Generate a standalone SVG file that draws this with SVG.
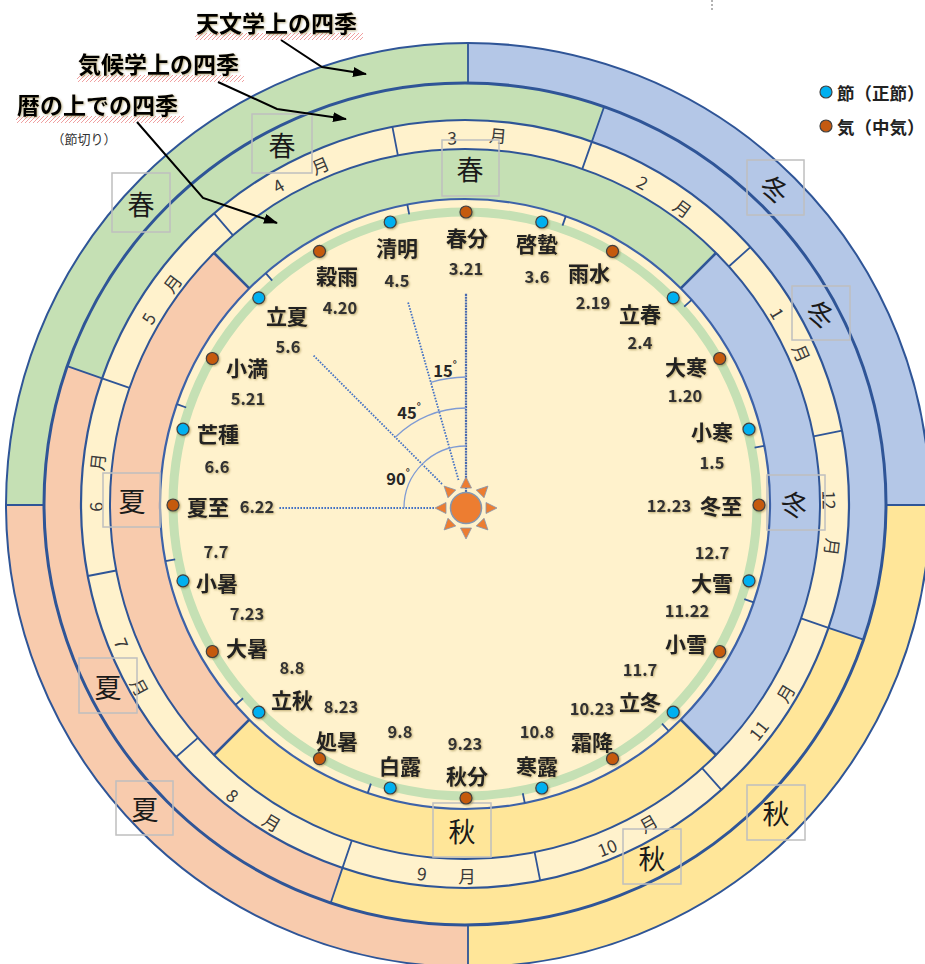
<svg xmlns="http://www.w3.org/2000/svg" width="925" height="964" viewBox="0 0 925 964">
<defs>
<style>
.ln{fill:none;stroke:#2F5597;stroke-width:2}
.tk{stroke:#2F5597;stroke-width:1.8;fill:none}
.bx{fill:none;stroke:#BFBFBF;stroke-width:1.5}
.sea{font-family:"Noto Sans CJK JP","Noto Sans",sans-serif;font-size:27px;fill:#1a1a1a;text-anchor:middle;dominant-baseline:central}
.mon{font-family:"Noto Sans CJK JP","Noto Sans",sans-serif;font-size:17.5px;fill:#3a3a3a;text-anchor:middle;dominant-baseline:central}
.nm{font-family:"Noto Sans CJK JP","Noto Sans",sans-serif;font-size:21px;font-weight:700;fill:#222;text-anchor:middle;dominant-baseline:central}
.dt{font-family:"Noto Sans CJK JP","Noto Sans",sans-serif;font-size:16.5px;font-weight:700;fill:#333;text-anchor:middle;dominant-baseline:central}
.cap{font-family:"Noto Sans CJK JP","Noto Sans",sans-serif;font-size:23px;font-weight:700;fill:#000;dominant-baseline:central}
.lg{font-family:"Noto Sans CJK JP","Noto Sans",sans-serif;font-size:17.5px;font-weight:700;fill:#222;dominant-baseline:central}
.deg{font-family:"Noto Sans CJK JP","Noto Sans",sans-serif;font-size:16.5px;font-weight:700;fill:#262626;text-anchor:middle;dominant-baseline:central}
.dotS{fill:#00B0F0;stroke:#404040;stroke-width:1.2}
.dotK{fill:#C55A11;stroke:#404040;stroke-width:1.2}
.dots{fill:none;stroke:#4472C4;stroke-width:1.8;stroke-dasharray:1.6 1.4}
.arc{fill:none;stroke:#7F9BD3;stroke-width:1.3}
.arw{fill:none;stroke:#000;stroke-width:2}
</style>
<pattern id="hatch" width="4" height="4" patternUnits="userSpaceOnUse">
<path d="M0,4 L4,0" stroke="#F0A0A0" stroke-width="1"/>
</pattern>
<filter id="sh" x="-20%" y="-20%" width="140%" height="140%">
<feDropShadow dx="1" dy="1" stdDeviation="0.8" flood-color="#6b5200" flood-opacity="0.45"/>
</filter>
<marker id="ah" viewBox="0 0 14 10" refX="13" refY="5" markerWidth="14" markerHeight="10" orient="auto" markerUnits="userSpaceOnUse">
<path d="M0,0 L14,5 L0,10 Z" fill="#000"/>
</marker>
<polygon id="ray" points="0,-31 5.5,-20 -5.5,-20" fill="#ED7D31" stroke="#8497B0" stroke-width="0.8"/>
</defs>

<rect width="925" height="964" fill="#fff"/>

<!-- Outer ring: astronomical seasons -->
<g id="ring-astronomical">
<path d="M468,505 L6,505 A462,462 0 0 1 468,43 Z" fill="#C5E0B4"/>
<path d="M468,505 L468,43 A462,462 0 0 1 930,505 Z" fill="#B4C7E7"/>
<path d="M468,505 L930,505 A462,462 0 0 1 468,967 Z" fill="#FFE699"/>
<path d="M468,505 L468,967 A462,462 0 0 1 6,505 Z" fill="#F8CBAD"/>
<circle cx="468" cy="505" r="462" class="ln"/>
</g>

<!-- Climatological ring -->
<g id="ring-climatological">
<path d="M465,504 L67.2,366.2 A421,421 0 0 1 604.1,106.7 Z" fill="#C5E0B4"/>
<path d="M465,504 L604.1,106.7 A421,421 0 0 1 863.5,639.7 Z" fill="#B4C7E7"/>
<path d="M465,504 L863.5,639.7 A421,421 0 0 1 330.7,903 Z" fill="#FFE699"/>
<path d="M465,504 L330.7,903 A421,421 0 0 1 67.2,366.2 Z" fill="#F8CBAD"/>
</g>

<!-- Month ring -->
<g id="ring-months">
<circle cx="465" cy="504" r="384" fill="#FFF2CC"/>
</g>

<!-- Calendar (sekki) ring -->
<g id="ring-calendar">
<path d="M465,504 L214,253 A355,355 0 0 1 716,253 Z" fill="#C5E0B4"/>
<path d="M465,504 L716,253 A355,355 0 0 1 716,755 Z" fill="#B4C7E7"/>
<path d="M465,504 L716,755 A355,355 0 0 1 214,755 Z" fill="#FFE699"/>
<path d="M465,504 L214,755 A355,355 0 0 1 214,253 Z" fill="#F8CBAD"/>
</g>

<!-- Inner disc -->
<g id="inner-disc">
<circle cx="465" cy="504" r="305" fill="#FFF2CC"/>
<circle cx="465" cy="504" r="292" fill="none" stroke="#C5E0B4" stroke-width="9"/>
</g>

<!-- Ring outlines and division lines -->
<g id="ring-lines">
<circle cx="465" cy="504" r="421" fill="none" stroke="#2F5597" stroke-width="3"/>
<circle cx="465" cy="504" r="384" fill="none" stroke="#2F5597" stroke-width="2.2"/>
<circle cx="465" cy="504" r="355" class="ln"/>
<circle cx="465" cy="504" r="305" fill="none" stroke="#3D62A8" stroke-width="2.2"/>
<path class="tk" d="M468,43 L468,83 M886,505 L925,505 M468,925 L468,964 M6,505 L44,505"/>
<path class="tk" d="M591.9,141.6 L604.1,106.7 M828.5,627.8 L863.5,639.7 M342.5,867.9 L330.7,903 M102.1,378.3 L67.2,366.2"/>
<path class="tk" d="M582.3,168.9 L591.9,141.6 M728.8,266.5 L750.4,247.1 M813.5,436.3 L841.9,430.7 M801.1,618.4 L828.5,627.8 M702.1,768.2 L721.4,789.8 M534.6,852.1 L540.2,880.6 M351.8,840.5 L342.5,867.9 M197.9,737.9 L176.1,757 M116.3,570.5 L87.8,576 M129.5,387.8 L102.1,378.3 M233,235.3 L214.1,213.3 M397.9,155.4 L392.4,126.9"/>
<path d="M680.7,288.3 L716,253 M680.7,719.7 L716,755 M249.3,719.7 L214,755 M249.3,288.3 L214,253" stroke="#2F5597" stroke-width="2.6" fill="none"/>
<path class="tk" stroke-width="1.4" d="M562.5,225.6 L565.8,216.1 M684.2,306.6 L691.7,299.9 M754.6,447.7 L764.4,445.8 M744.3,599.1 L753.7,602.3 M662,723.6 L668.7,731 M522.8,793.3 L524.8,803.1 M370.9,783.6 L367.7,793.1 M243.1,698.3 L235.5,704.9 M175.2,559.3 L165.4,561.2 M186.2,407.5 L176.8,404.2 M272.2,280.7 L265.7,273.1 M409.2,214.3 L407.3,204.5"/>
</g>

<!-- Month labels -->
<g id="month-labels">
<text class="mon" x="452" y="137" transform="rotate(-2 452 137)">3</text>
<text class="mon" x="498" y="135" transform="rotate(5 498 135)">月</text>
<text class="mon" x="643" y="182" transform="rotate(29 643 182)">2</text>
<text class="mon" x="683" y="208" transform="rotate(36 683 208)">月</text>
<text class="mon" x="778" y="313" transform="rotate(59 778 313)">1</text>
<text class="mon" x="802" y="353" transform="rotate(66 802 353)">月</text>
<text class="mon" x="830" y="500" transform="rotate(89 830 500)">12</text>
<text class="mon" x="833" y="547" transform="rotate(97 833 547)">月</text>
<text class="mon" x="758" y="730" transform="rotate(-52 758 730)">11</text>
<text class="mon" x="785" y="693" transform="rotate(-59 785 693)">月</text>
<text class="mon" x="607" y="847" transform="rotate(-22 607 847)">10</text>
<text class="mon" x="648" y="823" transform="rotate(-30 648 823)">月</text>
<text class="mon" x="422" y="873" transform="rotate(7 422 873)">9</text>
<text class="mon" x="467" y="875">月</text>
<text class="mon" x="233" y="795" transform="rotate(39 233 795)">8</text>
<text class="mon" x="272" y="822" transform="rotate(31 272 822)">月</text>
<text class="mon" x="122" y="643" transform="rotate(68 122 643)">7</text>
<text class="mon" x="140" y="687" transform="rotate(61 140 687)">月</text>
<text class="mon" x="95" y="507" transform="rotate(-90 95 507)">6</text>
<text class="mon" x="97" y="462" transform="rotate(-84 97 462)">月</text>
<text class="mon" x="148" y="318" transform="rotate(-60 148 318)">5</text>
<text class="mon" x="172" y="283" transform="rotate(-53 172 283)">月</text>
<text class="mon" x="278" y="185" transform="rotate(-30 278 185)">4</text>
<text class="mon" x="320" y="165" transform="rotate(-23 320 165)">月</text>
</g>

<!-- Season labels -->
<g id="season-astro-spring"><rect class="bx" x="112" y="173" width="58" height="59"/><text class="sea" x="141" y="203">春</text></g>
<g id="season-astro-winter"><rect class="bx" x="747" y="160" width="57" height="55"/><text class="sea" x="775" y="188" transform="rotate(28 775 188)">冬</text></g>
<g id="season-astro-autumn"><rect class="bx" x="747" y="785" width="58" height="55"/><text class="sea" x="776" y="812">秋</text></g>
<g id="season-astro-summer"><rect class="bx" x="116" y="781" width="57" height="54"/><text class="sea" x="145" y="808">夏</text></g>

<g id="season-clim-spring"><rect class="bx" x="252" y="114" width="60" height="59"/><text class="sea" x="282" y="144">春</text></g>
<g id="season-clim-winter"><rect class="bx" x="792" y="286" width="58" height="54"/><text class="sea" x="821" y="313" transform="rotate(28 821 313)">冬</text></g>
<g id="season-clim-autumn"><rect class="bx" x="623" y="829" width="58" height="55"/><text class="sea" x="652" y="857">秋</text></g>
<g id="season-clim-summer"><rect class="bx" x="79" y="658" width="58" height="55"/><text class="sea" x="108" y="686">夏</text></g>

<g id="season-cal-spring"><rect class="bx" x="442" y="140" width="57" height="56"/><text class="sea" x="470" y="168">春</text></g>
<g id="season-cal-winter"><rect class="bx" x="767" y="475" width="58" height="55"/><text class="sea" x="795" y="503" transform="rotate(20 795 503)">冬</text></g>
<g id="season-cal-autumn"><rect class="bx" x="433" y="803" width="58" height="54"/><text class="sea" x="462" y="830">秋</text></g>
<g id="season-cal-summer"><rect class="bx" x="103" y="473" width="57" height="54"/><text class="sea" x="132" y="500">夏</text></g>

<!-- Center: sun and angle lines -->
<g id="angle-guides">
<line x1="466" y1="492" x2="466" y2="293" stroke="#4A6AAE" stroke-width="2.2" stroke-dasharray="2 0.8"/>
<line class="dots" x1="458.5" y1="480" x2="408" y2="302"/>
<line class="dots" x1="442" y1="484" x2="313" y2="355"/>
<line class="dots" x1="434" y1="508" x2="278" y2="508"/>
<path class="arc" d="M466,377 A131,131 0 0 0 430.8,382.3"/>
<path class="arc" d="M466,408 A100,100 0 0 0 395.3,437.3"/>
<path class="arc" d="M466,446 A62,62 0 0 0 404,508"/>
<text class="deg" x="445" y="370">15<tspan font-size="10" dy="-7">°</tspan></text>
<text class="deg" x="409" y="412">45<tspan font-size="10" dy="-7">°</tspan></text>
<text class="deg" x="398" y="478">90<tspan font-size="10" dy="-7">°</tspan></text>
</g>
<g id="sun" transform="translate(466,508)">
<use href="#ray"/>
<use href="#ray" transform="rotate(45)"/>
<use href="#ray" transform="rotate(90)"/>
<use href="#ray" transform="rotate(135)"/>
<use href="#ray" transform="rotate(180)"/>
<use href="#ray" transform="rotate(225)"/>
<use href="#ray" transform="rotate(270)"/>
<use href="#ray" transform="rotate(315)"/>
<circle r="15.5" fill="#ED7D31" stroke="#8497B0" stroke-width="1.5"/>
</g>

<!-- 24 solar terms -->
<g id="solar-terms" filter="url(#sh)">
<g id="t-shunbun"><circle class="dotK" cx="466" cy="212" r="6"/><text class="nm" x="467" y="237">春分</text><text class="dt" x="466" y="268">3.21</text></g>
<g id="t-keichitsu"><circle class="dotS" cx="541.8" cy="222" r="6"/><text class="nm" x="537" y="243">啓蟄</text><text class="dt" x="537" y="276">3.6</text></g>
<g id="t-usui"><circle class="dotK" cx="612.5" cy="251.3" r="6"/><text class="nm" x="589" y="272">雨水</text><text class="dt" x="593" y="302">2.19</text></g>
<g id="t-risshun"><circle class="dotS" cx="673.2" cy="297.8" r="6"/><text class="nm" x="640" y="313">立春</text><text class="dt" x="640" y="342">2.4</text></g>
<g id="t-daikan"><circle class="dotK" cx="719.7" cy="358.5" r="6"/><text class="nm" x="686" y="366">大寒</text><text class="dt" x="685" y="395">1.20</text></g>
<g id="t-shoukan"><circle class="dotS" cx="749" cy="429.2" r="6"/><text class="nm" x="712" y="431">小寒</text><text class="dt" x="712" y="462">1.5</text></g>
<g id="t-touji"><circle class="dotK" cx="759" cy="505" r="6"/><text class="nm" x="721" y="505">冬至</text><text class="dt" x="669" y="505">12.23</text></g>
<g id="t-taisetsu"><circle class="dotS" cx="749" cy="580.8" r="6"/><text class="nm" x="712" y="582">大雪</text><text class="dt" x="712" y="552">12.7</text></g>
<g id="t-shousetsu"><circle class="dotK" cx="719.7" cy="651.5" r="6"/><text class="nm" x="686" y="643">小雪</text><text class="dt" x="687" y="610">11.22</text></g>
<g id="t-rittou"><circle class="dotS" cx="673.2" cy="712.2" r="6"/><text class="nm" x="640" y="701">立冬</text><text class="dt" x="640" y="669">11.7</text></g>
<g id="t-soukou"><circle class="dotK" cx="612.5" cy="758.7" r="6"/><text class="nm" x="592" y="741">霜降</text><text class="dt" x="592" y="708">10.23</text></g>
<g id="t-kanro"><circle class="dotS" cx="541.8" cy="788" r="6"/><text class="nm" x="537" y="765">寒露</text><text class="dt" x="537" y="731">10.8</text></g>
<g id="t-shuubun"><circle class="dotK" cx="466" cy="798" r="6"/><text class="nm" x="467" y="775">秋分</text><text class="dt" x="465" y="743">9.23</text></g>
<g id="t-hakuro"><circle class="dotS" cx="390.2" cy="788" r="6"/><text class="nm" x="400" y="765">白露</text><text class="dt" x="400" y="731">9.8</text></g>
<g id="t-shosho"><circle class="dotK" cx="319.5" cy="758.7" r="6"/><text class="nm" x="337" y="740">処暑</text><text class="dt" x="341" y="706">8.23</text></g>
<g id="t-risshuu"><circle class="dotS" cx="258.8" cy="712.2" r="6"/><text class="nm" x="292" y="699">立秋</text><text class="dt" x="292" y="667">8.8</text></g>
<g id="t-taisho"><circle class="dotK" cx="212.3" cy="651.5" r="6"/><text class="nm" x="247" y="647">大暑</text><text class="dt" x="247" y="613">7.23</text></g>
<g id="t-shousho"><circle class="dotS" cx="183" cy="580.8" r="6"/><text class="nm" x="217" y="582">小暑</text><text class="dt" x="216" y="551">7.7</text></g>
<g id="t-geshi"><circle class="dotK" cx="173" cy="505" r="6"/><text class="nm" x="208" y="506">夏至</text><text class="dt" x="257" y="506">6.22</text></g>
<g id="t-boushu"><circle class="dotS" cx="183" cy="429.2" r="6"/><text class="nm" x="218" y="433">芒種</text><text class="dt" x="217" y="466">6.6</text></g>
<g id="t-shouman"><circle class="dotK" cx="212.3" cy="358.5" r="6"/><text class="nm" x="247" y="367">小満</text><text class="dt" x="248" y="398">5.21</text></g>
<g id="t-rikka"><circle class="dotS" cx="258.8" cy="297.8" r="6"/><text class="nm" x="287" y="315">立夏</text><text class="dt" x="288" y="346">5.6</text></g>
<g id="t-kokuu"><circle class="dotK" cx="319.5" cy="251.3" r="6"/><text class="nm" x="337" y="275">穀雨</text><text class="dt" x="340" y="307">4.20</text></g>
<g id="t-seimei"><circle class="dotS" cx="390.2" cy="222" r="6"/><text class="nm" x="397" y="247">清明</text><text class="dt" x="397" y="280">4.5</text></g>
</g>

<!-- Legend -->
<g id="legend">
<circle class="dotS" cx="826" cy="92" r="6"/><text class="lg" x="837" y="92">節（正節）</text>
<circle class="dotK" cx="826" cy="126" r="6"/><text class="lg" x="837" y="126">気（中気）</text>
</g>

<!-- Captions -->
<g id="cap-astro">
<rect x="195" y="33" width="168" height="7" fill="url(#hatch)"/>
<text class="cap" x="196" y="22" filter="url(#sh)">天文学上の四季</text>
</g>
<g id="cap-clim">
<rect x="77" y="75" width="167" height="7" fill="url(#hatch)"/>
<text class="cap" x="78" y="63" filter="url(#sh)">気候学上の四季</text>
</g>
<g id="cap-cal">
<rect x="16" y="116" width="168" height="7" fill="url(#hatch)"/>
<text class="cap" x="17" y="104" filter="url(#sh)">暦の上での四季</text>
<text x="84" y="138" font-family="Noto Sans CJK JP, Noto Sans, sans-serif" font-size="13" fill="#333" text-anchor="middle" dominant-baseline="central">（節切り）</text>
</g>

<!-- Connectors -->
<g id="connectors">
<polyline class="arw" points="281,40 322,67 366,74" marker-end="url(#ah)"/>
<polyline class="arw" points="218,82 277,109 346,119" marker-end="url(#ah)"/>
<polyline class="arw" points="137,122 203,198 277,223" marker-end="url(#ah)"/>
</g>

<line x1="712" y1="0" x2="712" y2="10" stroke="#666" stroke-width="1" stroke-dasharray="2 2"/>
</svg>
